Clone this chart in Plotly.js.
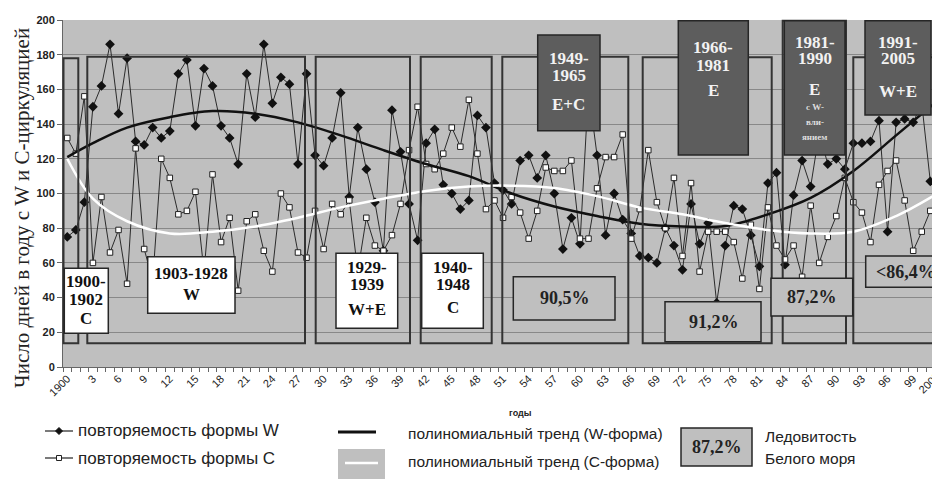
<!DOCTYPE html>
<html><head><meta charset="utf-8">
<script src="https://cdn.plot.ly/plotly-3.0.1.min.js"></script>
<style>html,body{margin:0;padding:0;overflow:hidden;background:#fff}#chart{width:932px;height:484px}</style>
</head><body><div id="chart"></div>
<script>
// ---- data ----
const years = [1900,1901,1902,1903,1904,1905,1906,1907,1908,1909,
1910,1911,1912,1913,1914,1915,1916,1917,1918,1919,
1920,1921,1922,1923,1924,1925,1926,1927,1928,1929,
1930,1931,1932,1933,1934,1935,1936,1937,1938,1939,
1940,1941,1942,1943,1944,1945,1946,1947,1948,1949,
1950,1951,1952,1953,1954,1955,1956,1957,1958,1959,
1960,1961,1962,1963,1964,1965,1966,1967,1968,1969,
1970,1971,1972,1973,1974,1975,1976,1977,1978,1979,
1980,1981,1982,1983,1984,1985,1986,1987,1988,1989,
1990,1991,1992,1993,1994,1995,1996,1997,1998,1999,
2000,2001];
const formW = [75,79,95,150,162,186,146,178,130,128,
138,132,136,169,177,139,172,162,139,132,
117,169,144,186,152,167,163,117,169,122,
116,132,158,98,138,114,95,67,148,124,
94,73,129,137,105,100,91,96,145,138,
106,102,94,119,122,109,122,100,68,86,
71,160,122,76,100,85,77,64,63,60,
80,70,56,94,71,83,37,70,93,91,
76,58,106,112,59,99,119,104,135,117,
120,114,129,129,130,142,78,141,143,141,
152,107];
const formC = [132,123,156,60,98,66,79,48,126,68,
50,120,109,88,90,101,55,111,72,86,
44,84,88,67,55,100,92,66,63,90,
68,94,88,96,55,86,70,67,76,94,
125,150,117,114,123,138,127,154,123,91,
96,86,98,89,74,90,115,113,113,119,
74,74,103,121,121,134,74,91,125,95,
80,109,64,106,55,78,78,78,72,51,
82,45,92,70,62,70,52,93,60,75,
87,109,95,89,72,105,113,119,96,67,
78,90];
const trendYears = [1900,1903,1907,1912,1917,1922,1927,1932,1937,1942,1947,1952,1957,1962,1967,1972,1977,1982,1987,1992,1997,2001.5];
const trendW = [121,129,138,144,147.5,146,141,133.5,125,117,110,100,92.5,87,82.5,81,81.3,88,97.5,113,133.5,152];
const trendC = [120,97,84,77,78,81,86,92,97,101.5,104,104.5,103.2,98.5,92,88,83,79,77,78,87,99];
const tickYears = [1900,1903,1906,1909,1912,1915,1918,1921,1924,1927,1930,1933,1936,1939,1942,1945,1948,1951,1954,1957,1960,1963,1966,1969,1972,1975,1978,1981,1984,1987,1990,1993,1996,1999];
const tickLabels = ["1900","3","6","9","12","15","18","21","24","27","30","33","36","39","42","45","48","51","54","57","60","63","66","69","72","75","78","81","84","87","90","93","96","99"];
const lastTickLabel = "2002";
const yTitle = "Число дней в году с W и С-циркуляцией";
const periodNames = ["1900-1902","1903-1928","1929-1939","1940-1948","1949-1965","1966-1981","1981-1990","1991-2005"];
const periodForms = ["C","W","W+E","C","E+C","E","E","W+E"];
const iceCover = ["90,5%","91,2%","87,2%","<86,4%"];
const legendNames = ["повторяемость формы W","повторяемость формы С","полиномиальный тренд (W-форма)","полиномиальный тренд (С-форма)","Ледовитость","Белого моря"];

// ---- geometry helpers (pixel -> paper) ----
const L=63, T=20, PW=869, PH=347;
const fx = x => (x-L)/PW;
const fy = y => (T+PH-y)/PH;
const SERIF = 'Liberation Serif, Times New Roman, serif';
const SANS = 'Liberation Sans, Arial, sans-serif';
const GRAY = '#bfbfbf', DARK = '#5d5d5d', EDGE = '#262626';
const shapes = [], anns = [];
function rect(x0,y0,x1,y1,fill,line,w){
  shapes.push({type:'rect',xref:'paper',yref:'paper',x0:fx(x0),x1:fx(x1),y0:fy(y1),y1:fy(y0),
    fillcolor:fill,line:{color:line,width:w},layer:'above'});
}
function seg(x0,y0,x1,y1,color,w){
  shapes.push({type:'line',xref:'paper',yref:'paper',x0:fx(x0),x1:fx(x1),y0:fy(y0),y1:fy(y1),
    line:{color:color,width:w},layer:'above'});
}
function txt(x,y,t,size,color,extra){
  anns.push(Object.assign({xref:'paper',yref:'paper',x:fx(x),y:fy(y),text:t,showarrow:false,
    xanchor:'center',yanchor:'middle',borderpad:0,font:{family:SERIF,size:size,color:color}},extra||{}));
}
const split = s => s.split('-');
const B = s => '<b>'+s+'</b>';

// period frames
const NOFILL='rgba(0,0,0,0)';
rect(63.5,58.3,78.3,343.3,NOFILL,'#333',2);
rect(87.3,56.7,305,343.3,NOFILL,'#333',2);
rect(315.7,56.7,410,343.3,NOFILL,'#333',2);
rect(420.7,56.7,491.7,343.3,NOFILL,'#333',2);
rect(502.3,56.7,628.3,343.3,NOFILL,'#333',2);
rect(642.7,57.3,771.7,343.3,NOFILL,'#333',2);
rect(782.7,20.7,846,343.3,NOFILL,'#333',2);
rect(853.3,57.3,990,343.3,NOFILL,'#333',2);

// white period boxes (circulation form)
rect(64.3,268.3,108.3,333.3,'#ffffff',EDGE,1.5);
rect(147.7,256.7,235,313.3,'#ffffff',EDGE,1.5);
rect(336,253.3,397.7,328.3,'#ffffff',EDGE,1.5);
rect(421.7,253.3,483.3,328.3,'#ffffff',EDGE,1.5);
let p;
const BK='#111', WT='#f2f2f2';
p=split(periodNames[0]); txt(86.3,281,B(p[0]+'-'),17,BK); txt(86.3,299,B(p[1]),17,BK); txt(86.3,318,B(periodForms[0]),17,BK);
txt(191.3,273,B(periodNames[1]),17,BK); txt(191.3,294,B(periodForms[1]),17,BK);
p=split(periodNames[2]); txt(366.8,267,B(p[0]+'-'),17,BK); txt(366.8,284,B(p[1]),17,BK); txt(366.8,309,B(periodForms[2]),17,BK);
p=split(periodNames[3]); txt(452.5,267,B(p[0]+'-'),17,BK); txt(452.5,284,B(p[1]),17,BK); txt(452.5,307,B(periodForms[3]),17,BK);

// dark period boxes
rect(537.7,35,600,130.7,DARK,EDGE,1.5);
rect(678.3,20.7,748.3,155,DARK,EDGE,1.5);
rect(784.3,20.7,845,155,DARK,EDGE,1.5);
rect(865,20.7,931,115,DARK,EDGE,1.5);
p=split(periodNames[4]); txt(568.8,58,B(p[0]+'-'),17,WT); txt(568.8,75,B(p[1]),17,WT); txt(568.8,104,B(periodForms[4]),17,WT);
p=split(periodNames[5]); txt(713.3,48,B(p[0]+'-'),17,WT); txt(713.3,65,B(p[1]),17,WT); txt(713.3,90,B(periodForms[5]),17,WT);
p=split(periodNames[6]); txt(814.7,42,B(p[0]+'-'),17,WT); txt(814.7,59,B(p[1]),17,WT); txt(814.7,89,B(periodForms[6]),17,WT);
txt(814.7,107,B('с W-'),9,'#dddddd'); txt(814.7,122,B('вли-'),9,'#dddddd'); txt(814.7,137,B('янием'),9,'#dddddd');
p=split(periodNames[7]); txt(898,42,B(p[0]+'-'),17,WT); txt(898,59,B(p[1]),17,WT); txt(898,92,B(periodForms[7]),17,WT);

// ice cover boxes
rect(513.3,276.7,615,320,GRAY,EDGE,1.5);
rect(665,301.7,761,341.7,GRAY,EDGE,1.5);
rect(771,278.3,852.7,316,GRAY,EDGE,1.5);
rect(865.7,256,950,287.3,GRAY,EDGE,1.5);
txt(565,298,B(iceCover[0]),18,'#222');
txt(714,322,B(iceCover[1]),18,'#222');
txt(812,297,B(iceCover[2]),18,'#222');
txt(906,272,B(iceCover[3]),18,'#222');

// axis texts
txt(22,208,yTitle,21,'#222',{textangle:-90});
txt(520,413,B('годы'),9,'#222',{font:{family:SANS,size:9,color:'#222'}});
txt(929,383,lastTickLabel,11,'#222',{textangle:-45,font:{family:SANS,size:11,color:'#222'}});

// ---- custom legend ----
seg(45,431,73,431,'#222',1.2);
shapes.push({type:'path',xref:'paper',yref:'paper',layer:'above',fillcolor:'#111',line:{color:'#111',width:1},
  path:`M ${fx(59)},${fy(427.5)} L ${fx(62.5)},${fy(431)} L ${fx(59)},${fy(434.5)} L ${fx(55.5)},${fy(431)} Z`});
seg(45,458,73,458,'#222',1.2);
rect(56.5,455.5,61.5,460.5,'#ffffff','#222',1);
const LF = s => ({xanchor:'left',font:{family:SANS,size:s,color:'#222'}});
txt(77,431,legendNames[0],17,'#222',LF(17));
txt(77,458,legendNames[1],17,'#222',LF(17));
seg(338,432,376,432,'#111',3);
rect(338,449,385,479,GRAY,GRAY,0);
seg(345,463,378,463,'#ffffff',2.5);
txt(407,433,legendNames[2],15.5,'#222',LF(15.5));
txt(407,462,legendNames[3],15.5,'#222',LF(15.5));
rect(681,428,752,466,GRAY,EDGE,1.5);
txt(716.5,447,B(iceCover[2]),18,'#222');
txt(764,436,legendNames[4],15.5,'#222',LF(15.5));
txt(764,458,legendNames[5],15.5,'#222',LF(15.5));

// ---- traces ----
const traces = [
  {x:years,y:formW,type:'scatter',mode:'lines+markers',name:legendNames[0],
   line:{color:'#2b2b2b',width:1},marker:{symbol:'diamond',size:7.5,color:'#111'}},
  {x:years,y:formC,type:'scatter',mode:'lines+markers',name:legendNames[1],
   line:{color:'#2b2b2b',width:1},marker:{symbol:'square',size:5.5,color:'#ffffff',line:{color:'#222',width:1}}},
  {x:trendYears,y:trendW,type:'scatter',mode:'lines',name:legendNames[2],
   line:{color:'#111',width:2.5,shape:'spline',smoothing:1}},
  {x:trendYears,y:trendC,type:'scatter',mode:'lines',name:legendNames[3],
   line:{color:'#ffffff',width:2.5,shape:'spline',smoothing:1}}
];

const layout = {
  width:932,height:484,showlegend:false,
  margin:{l:L,r:0,t:T,b:484-T-PH,pad:0},
  paper_bgcolor:'#ffffff',plot_bgcolor:GRAY,
  font:{family:SANS,color:'#222'},
  xaxis:{range:[1899.5,2001.2],tickmode:'array',tickvals:tickYears,ticktext:tickLabels,
    tickangle:-45,tickfont:{family:SANS,size:11,color:'#222'},ticks:'',showgrid:false,zeroline:false,
    showline:true,linecolor:'#666',linewidth:1,automargin:false,
    minor:{tickmode:'linear',tick0:1899.5,dtick:1,ticks:'outside',ticklen:4,tickcolor:'#666',showgrid:false}},
  yaxis:{range:[0,200],dtick:20,tick0:0,showgrid:true,gridcolor:'#888888',gridwidth:1,zeroline:false,
    showline:true,linecolor:'#666',linewidth:1,ticks:'outside',ticklen:5,tickcolor:'#666',automargin:false,
    tickfont:{family:SANS,size:11,color:'#222',weight:'bold'}},
  shapes:shapes,annotations:anns
};
Plotly.newPlot('chart',traces,layout,{displayModeBar:false,staticPlot:true});
</script></body></html>
